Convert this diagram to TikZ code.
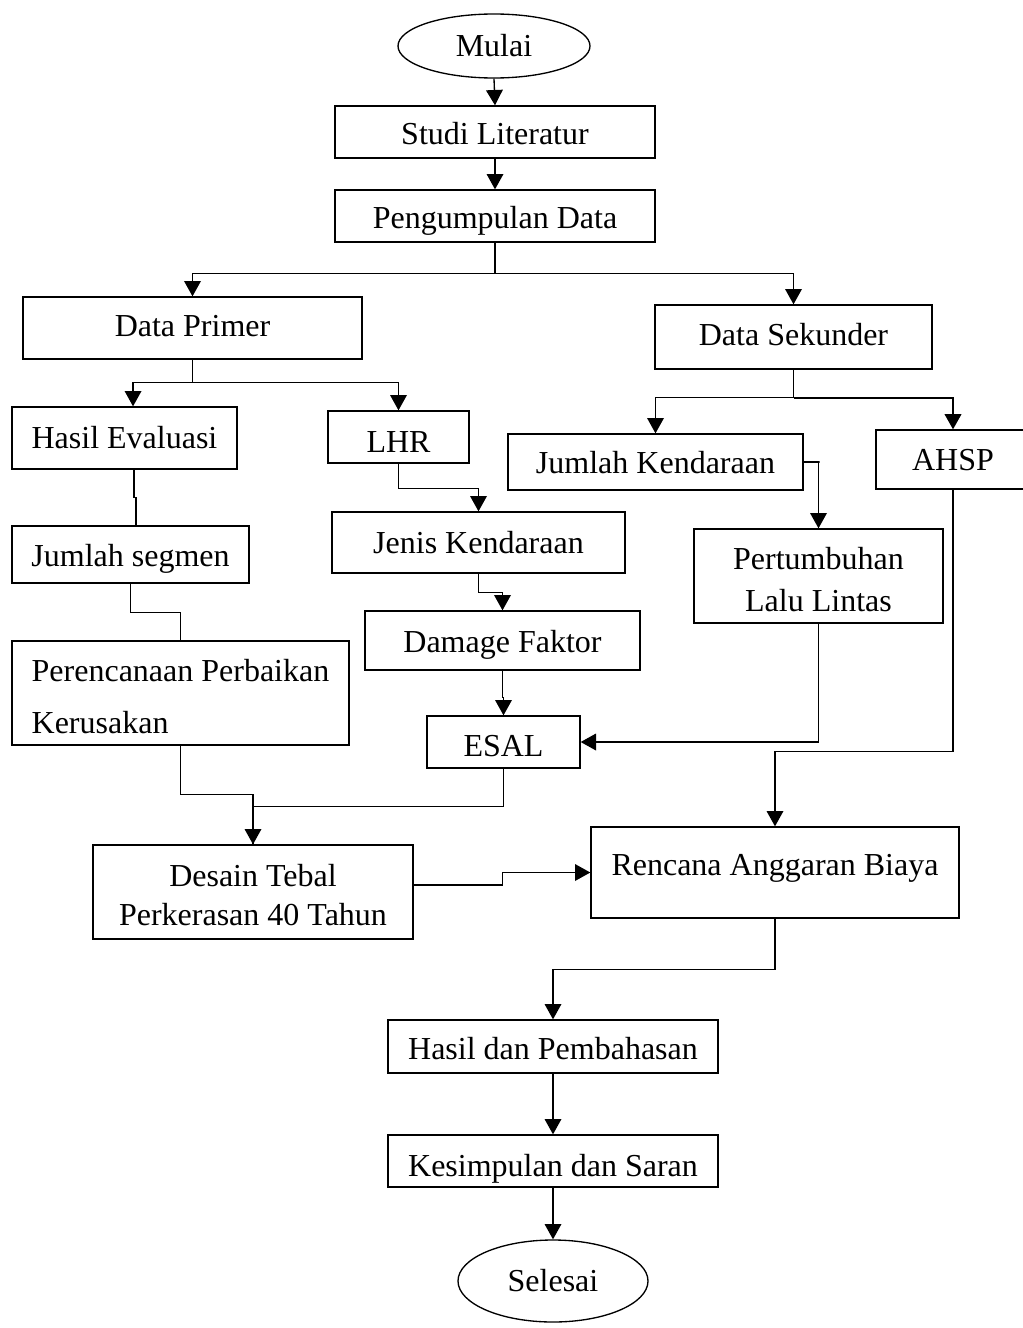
\documentclass[tikz,border=0pt]{standalone}
\usepackage{fontspec}
\setmainfont{Liberation Serif}
\usetikzlibrary{arrows.meta,shapes.geometric}
\begin{document}
\begin{tikzpicture}[x=0.75pt,y=-0.75pt,
  font=\fontsize{24}{28}\selectfont,
  base/.style={draw=black,line width=1pt,inner sep=0pt,align=center},
  rect/.style={base,rectangle},
  box/.style={rect,
    execute at begin node={\rule[-6pt]{0pt}{30.8pt}},
    execute at end node={\rule[-6pt]{0pt}{30.8pt}}},
  oval/.style={base,ellipse},
  ln/.style={line width=1pt},
  arr/.style={ln,-{Triangle[length=11.5pt,width=12.5pt]}}]
\useasboundingbox (0,0) rectangle (1022,1328);

\node[oval,minimum width=144pt,minimum height=48pt] (mulai) at (494,46) {Mulai};
\node[box,minimum width=240pt,minimum height=39pt] (studi) at (495,132) {Studi Literatur};
\node[box,minimum width=240pt,minimum height=39pt] (peng) at (495,216) {Pengumpulan Data};
\node[box,minimum width=254.25pt,minimum height=46.5pt] (primer) at (192.5,328) {\raisebox{3pt}{Data Primer}};
\node[box,minimum width=207.75pt,minimum height=48pt] (sek) at (793.5,337) {\raisebox{3pt}{Data Sekunder}};
\node[box,minimum width=168.75pt,minimum height=46.5pt] (hasilev) at (124.5,438) {\raisebox{1.5pt}{Hasil Evaluasi}};
\node[box,minimum width=105.75pt,minimum height=39pt] (lhr) at (398.5,437) {\raisebox{-2pt}{LHR}};
\node[box,minimum width=221.25pt,minimum height=42pt] (jk) at (655.5,462) {\raisebox{0.75pt}{Jumlah Kendaraan}};
\node[box,minimum width=115.5pt,minimum height=44.25pt] (ahsp) at (953,459.5) {\raisebox{1.5pt}{AHSP}};
\node[box,minimum width=219.75pt,minimum height=45.75pt] (jenis) at (478.5,542.5) {\raisebox{1.5pt}{Jenis Kendaraan}};
\node[box,minimum width=177.75pt,minimum height=42.75pt] (segmen) at (130.5,554.5) {\raisebox{0.75pt}{Jumlah segmen}};
\node[rect,minimum width=186.75pt,minimum height=70.5pt,font=\fontsize{24}{31.5}\selectfont] (pert) at (818.5,576) {\rule{0pt}{21.6pt}Pertumbuhan\\Lalu Lintas};
\node[box,minimum width=206.25pt,minimum height=44.25pt] (damage) at (502.5,640.5) {\raisebox{0.75pt}{Damage Faktor}};
\node[rect,align=left,minimum width=252.75pt,minimum height=78pt,font=\fontsize{24}{39}\selectfont] (peren) at (180.5,693) {\rule{0pt}{22.4pt}Perencanaan Perbaikan\\Kerusakan};
\node[box,minimum width=114.75pt,minimum height=39pt] (esal) at (503.5,742) {\raisebox{-1.5pt}{ESAL}};
\node[rect,minimum width=240pt,minimum height=70.5pt,font=\fontsize{24}{29}\selectfont] (desain) at (253,892) {\rule{0pt}{21.6pt}Desain Tebal\\Perkerasan 40 Tahun};
\node[box,minimum width=276pt,minimum height=68.25pt] (rab) at (775,872.5) {\raisebox{7pt}{Rencana Anggaran Biaya}};
\node[box,minimum width=247.5pt,minimum height=39.75pt] (hasil) at (553,1046.5) {Hasil dan Pembahasan};
\node[box,minimum width=247.5pt,minimum height=39pt] (kes) at (553,1161) {\raisebox{-3.5pt}{Kesimpulan dan Saran}};
\node[oval,minimum width=142.5pt,minimum height=61.5pt] (selesai) at (553,1281) {Selesai};

% connectors
\draw[arr] (mulai.south) -- (studi.north);
\draw[arr] (studi.south) -- (peng.north);
\draw[arr] (peng.south) -- ++(0,31) -| (primer.north);
\draw[arr] (peng.south) -- ++(0,31) -| (sek.north);
\draw[arr] (primer.south) -- ++(0,23) -| ([xshift=6.4pt]hasilev.north);
\draw[arr] (primer.south) -- ++(0,23) -| (lhr.north);
\draw[ln] ([xshift=7.1pt]hasilev.south) -- ++(0,28) -| ([xshift=4.1pt]segmen.north);
\draw[ln] (segmen.south) -- ++(0,29) -| (peren.north);
\draw[ln] (peren.south) -- ++(0,49) -| (desain.north);
\draw[arr] (esal.south) -- ++(0,38) -| (desain.north);
\draw[arr] (lhr.south) -- ++(0,25) -| (jenis.north);
\draw[arr] (jenis.south) -- ++(0,19) -| (damage.north);
\draw[arr] (damage.south) -- ++(0,27) -| (esal.north);
\draw[arr] (sek.south) -- ++(0,28) -| (jk.north);
\draw[arr,line width=1.6pt] (sek.south) ++(0,28) -| (ahsp.north);
\draw[ln] (sek.south) -- ++(0,28);
\draw[arr] (jk.east) -- ++(16,0) -| (pert.north);
\draw[arr] (pert.south) |- (esal.east);
\draw[arr] (ahsp.south) -- ++(0,262) -| (rab.north);
\draw[arr] ([yshift=5.25pt]desain.east) -- ++(89,0) |- (rab.west);
\draw[arr] (rab.south) -- ++(0,51) -| (hasil.north);
\draw[arr] (hasil.south) -- (kes.north);
\draw[arr] (kes.south) -- (selesai.north);
\end{tikzpicture}
\end{document}
